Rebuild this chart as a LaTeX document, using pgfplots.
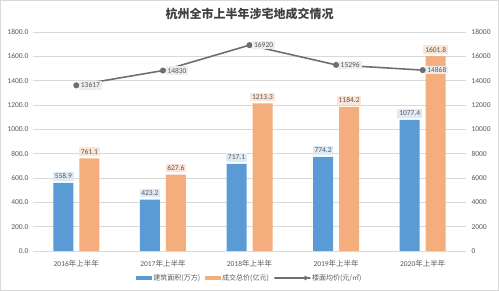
\documentclass[border=0pt]{standalone}
\usepackage{pgfplots}
\pgfplotsset{compat=1.18}
\usepackage{fontspec}
\setmainfont{Carlito}
\newfontfamily\cjk{Noto Sans CJK SC}
\definecolor{barblue}{HTML}{5B9BD5}
\definecolor{barorange}{HTML}{F4AE7E}
\definecolor{linegray}{HTML}{6F6F6F}
\definecolor{txtgray}{HTML}{595959}
\definecolor{gridgray}{HTML}{D9D9D9}
\definecolor{lblblue}{HTML}{DEEBF7}
\definecolor{lblorange}{HTML}{FBE5D6}
\definecolor{lblgray}{HTML}{EDEDED}
\pgfkeys{/pgf/number format/.cd, assume math mode=true, 1000 sep={}}
\pgfplotsset{
  bluelegend/.style={legend image code/.code={\fill[barblue] (0pt,-2pt) rectangle (16pt,2pt);}},
  orangelegend/.style={legend image code/.code={\fill[barorange] (0pt,-2pt) rectangle (16pt,2pt);}},
  linelegend/.style={legend image code/.code={\draw[linegray, line width=1.2pt, mark=*, mark size=1.6pt, mark repeat=2, mark phase=2] plot coordinates {(0pt,0pt) (8pt,0pt) (16pt,0pt)};}},
}
\begin{document}
\begin{tikzpicture}
\begin{axis}[name=ax, scale only axis, width=433pt, height=219pt,
  xmin=-0.5, xmax=4.5, ymin=0, ymax=1800,
  ytick={0,200,...,1800},
  xtick={0,1,2,3,4},
  xticklabels={2016{\cjk 年上半年},2017{\cjk 年上半年},2018{\cjk 年上半年},2019{\cjk 年上半年},2020{\cjk 年上半年}},
  axis line style={draw=none}, major tick style={draw=none},
  ymajorgrids, grid style={gridgray, line width=0.6pt},
  ticklabel style={font=\fontsize{7.5}{9}\selectfont, text=txtgray},
  yticklabel style={xshift=-1pt, /pgf/number format/.cd, fixed, fixed zerofill, precision=1},
  xticklabel style={yshift=-1pt},
  ybar=6pt, bar width=20pt,
  nodes near coords={\pgfmathprintnumber[fixed,fixed zerofill,precision=1]{\pgfplotspointmeta}},
  nodes near coords style={font=\fontsize{7.5}{9}\selectfont, text=txtgray, inner sep=1.8pt, yshift=2pt},
  legend style={at={(0.5,-0.1233)}, anchor=center, draw=none, fill=none,
    legend columns=3, font=\cjk\fontsize{7}{8}\selectfont, text=txtgray,
    nodes={inner sep=1pt},
    /tikz/every even column/.append style={column sep=4pt}},
]
\addplot[fill=barblue, draw=none, every node near coord/.append style={fill=lblblue}, bluelegend]
  coordinates {(0,558.9)(1,423.2)(2,717.1)(3,774.2)(4,1077.4)};
\addlegendentry{建筑面积(万方)}
\addplot[fill=barorange, draw=none, every node near coord/.append style={fill=lblorange}, orangelegend]
  coordinates {(0,761.1)(1,627.6)(2,1213.3)(3,1184.2)(4,1601.8)};
\addlegendentry{成交总价(亿元)}
\addlegendimage{linelegend}
\addlegendentry{楼面均价(元/㎡)}
\end{axis}
\begin{axis}[scale only axis, width=433pt, height=219pt,
  xmin=-0.5, xmax=4.5, ymin=0, ymax=18000,
  axis y line*=right, axis x line=none, xtick=\empty,
  ytick={0,2000,...,18000}, scaled y ticks=false,
  axis line style={draw=none}, major tick style={draw=none},
  ticklabel style={font=\fontsize{7.5}{9}\selectfont, text=txtgray},
  yticklabel style={xshift=2pt, /pgf/number format/.cd, fixed, precision=0},
]
\addplot[linegray, line width=1.6pt, mark=*, mark size=2.2pt,
  nodes near coords, nodes near coords align={horizontal},
  every node near coord/.append style={anchor=west, xshift=2pt, fill=lblgray,
    font=\fontsize{7.5}{9}\selectfont, text=txtgray, inner sep=1.8pt}]
  coordinates {(0,13617)(1,14830)(2,16920)(3,15296)(4,14868)};
\end{axis}
\node[font=\cjk\bfseries\fontsize{12}{14}\selectfont, text=black!75] at ([yshift=18pt]ax.north) {杭州全市上半年涉宅地成交情况};
\draw[gridgray, line width=0.8pt] ([xshift=-32.6pt,yshift=-39.6pt]ax.south west) rectangle ([xshift=32.6pt,yshift=31.6pt]ax.north east);
\pgfresetboundingbox
\path[use as bounding box] ([xshift=-33pt,yshift=-40pt]ax.south west) rectangle ([xshift=33pt,yshift=32pt]ax.north east);
\end{tikzpicture}
\end{document}
